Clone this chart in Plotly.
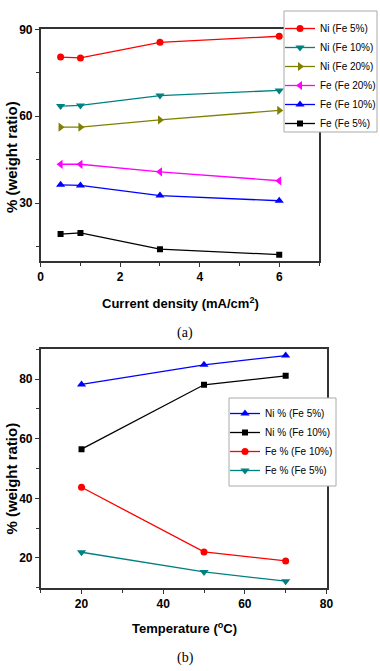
import plotly.graph_objects as go

# ---- data (a): composition vs current density ----
current_density = [0.5, 1, 3, 6]
ni_fe5 = [80.4, 80.1, 85.5, 87.6]
ni_fe10 = [63.5, 63.7, 67.1, 68.9]
ni_fe20 = [56.2, 56.2, 58.7, 62.0]
fe_fe20 = [43.4, 43.4, 40.8, 37.7]
fe_fe10 = [36.3, 36.1, 32.6, 30.8]
fe_fe5 = [19.3, 19.7, 14.1, 12.2]

# ---- data (b): composition vs temperature ----
temperature = [20, 50, 70]
ni_b_fe5 = [78.2, 84.8, 87.9]
ni_b_fe10 = [56.5, 78.1, 81.1]
fe_b_fe10 = [43.7, 22.0, 19.0]
fe_b_fe5 = [21.9, 15.3, 12.2]

W, H = 380, 671
SANS = "Liberation Sans, Arial, sans-serif"

def px_x(p):
    return p / W

def px_y(p):
    return 1 - p / H

fig = go.Figure()

series_a = [
    ("Ni (Fe 5%)", ni_fe5, "#ff0000", "circle", 7),
    ("Ni (Fe 10%)", ni_fe10, "#008080", "triangle-down", 8),
    ("Ni (Fe 20%)", ni_fe20, "#808000", "triangle-right", 8),
    ("Fe (Fe 20%)", fe_fe20, "#ff00ff", "triangle-left", 8),
    ("Fe (Fe 10%)", fe_fe10, "#0000ff", "triangle-up", 8),
    ("Fe (Fe 5%)", fe_fe5, "#000000", "square", 6),
]
for name, ys, col, sym, sz in series_a:
    fig.add_trace(go.Scatter(
        x=current_density, y=ys, name=name, mode="lines+markers",
        line=dict(color=col, width=1.3),
        marker=dict(symbol=sym, size=sz, color=col),
        xaxis="x", yaxis="y", legend="legend",
    ))

series_b = [
    ("Ni % (Fe 5%)", ni_b_fe5, "#0000ff", "triangle-up", 8),
    ("Ni % (Fe 10%)", ni_b_fe10, "#000000", "square", 6),
    ("Fe % (Fe 10%)", fe_b_fe10, "#ff0000", "circle", 7),
    ("Fe % (Fe 5%)", fe_b_fe5, "#008080", "triangle-down", 8),
]
for name, ys, col, sym, sz in series_b:
    fig.add_trace(go.Scatter(
        x=temperature, y=ys, name=name, mode="lines+markers",
        line=dict(color=col, width=1.3),
        marker=dict(symbol=sym, size=sz, color=col),
        xaxis="x2", yaxis="y2", legend="legend2",
    ))

tickfont = dict(family=SANS, size=12, color="black", weight="bold")
axis_common = dict(
    showline=True, mirror=True, linecolor="#333333", linewidth=1.6,
    ticks="outside", ticklen=4, tickwidth=1.3, tickcolor="#333333",
    showgrid=False, zeroline=False, tickfont=tickfont,
)
minor_common = dict(ticks="outside", ticklen=3, tickwidth=1.2, tickcolor="#333333")

legend_common = dict(
    bgcolor="rgba(0,0,0,0)", borderwidth=0,
    font=dict(family=SANS, size=10, color="black"),
    itemwidth=30, indentation=-5,
)

fig.update_layout(
    width=W, height=H,
    margin=dict(l=0, r=0, t=0, b=0, autoexpand=False),
    paper_bgcolor="white", plot_bgcolor="white",
    font=dict(family=SANS, color="black"),
    xaxis=dict(domain=[px_x(40.7), px_x(319)], range=[0, 7], anchor="y",
               tick0=0, dtick=2, minor=dict(dtick=1, **minor_common),
               **axis_common),
    yaxis=dict(domain=[px_y(261), px_y(29.3)], range=[10, 90], anchor="x",
               tick0=0, dtick=30, minor=dict(dtick=15, **minor_common),
               **axis_common),
    xaxis2=dict(domain=[px_x(40.7), px_x(326.5)], range=[10, 80], anchor="y2",
                tick0=0, dtick=20, minor=dict(dtick=10, **minor_common),
                **axis_common),
    yaxis2=dict(domain=[px_y(587.7), px_y(349.3)], range=[10, 90], anchor="x2",
                tick0=0, dtick=20, minor=dict(dtick=10, **minor_common),
                **axis_common),
    legend=dict(x=px_x(285), xanchor="left", y=px_y(14), yanchor="top",
                **legend_common),
    legend2=dict(x=px_x(230), xanchor="left", y=px_y(399), yanchor="top",
                 **legend_common),
    showlegend=True,
)

# legend frames (white boxes with grey border, covering the mirrored axis lines like the original)
for x0, x1, y0, y1 in [(284, 377, 11, 132), (229, 336, 398, 486)]:
    fig.add_shape(type="rect", xref="paper", yref="paper",
                  x0=px_x(x0), x1=px_x(x1), y0=px_y(y1), y1=px_y(y0),
                  fillcolor="white", line=dict(color="#aaaaaa", width=1),
                  layer="above")

bold13 = dict(family=SANS, size=13, color="black")
bold15 = dict(family=SANS, size=15, color="black")
serif = dict(family="Liberation Serif, Times New Roman, serif", size=14, color="black")

annots = [
    dict(text="<b>Current density (mA/cm<sup>2</sup>)</b>", x=px_x(180), y=px_y(302.7), font=bold13),
    dict(text="<b>% (weight ratio)</b>", x=px_x(11), y=px_y(157), font=bold15, textangle=-90),
    dict(text="(a)", x=px_x(185), y=px_y(332.7), font=serif),
    dict(text="<b>Temperature (<sup>o</sup>C)</b>", x=px_x(184), y=px_y(627.7), font=bold13),
    dict(text="<b>% (weight ratio)</b>", x=px_x(11), y=px_y(478.5), font=bold15, textangle=-90),
    dict(text="(b)", x=px_x(185.5), y=px_y(658), font=serif),
]
for a in annots:
    fig.add_annotation(xref="paper", yref="paper", showarrow=False,
                       xanchor="center", yanchor="middle", **a)

fig.write_html(
    "out.html",
    config={"displayModeBar": False},
    post_script="document.body.style.margin='0';document.body.style.padding='0';",
)
